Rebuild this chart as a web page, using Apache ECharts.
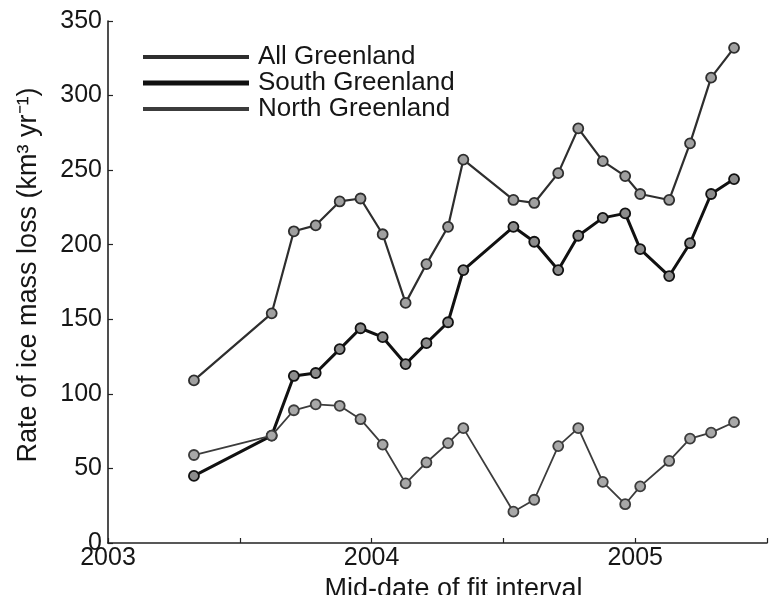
<!DOCTYPE html>
<html>
<head>
<meta charset="utf-8">
<script src="https://cdn.jsdelivr.net/npm/echarts@6/dist/echarts.min.js"></script>
<style>
html,body{margin:0;padding:0;background:#fff;}
#chart{width:783px;height:595px;}
</style>
</head>
<body>
<div id="chart"></div>
<script>
// Mid-date of fit interval (decimal year)
var midDates = [2003.326, 2003.621, 2003.705, 2003.788, 2003.879, 2003.958, 2004.042, 2004.129, 2004.208, 2004.290, 2004.348,
                2004.538, 2004.617, 2004.708, 2004.784, 2004.877, 2004.962, 2005.019, 2005.129, 2005.208, 2005.288, 2005.375];
// Rate of ice mass loss (km^3 / yr)
var allGreenland   = [109, 154, 209, 213, 229, 231, 207, 161, 187, 212, 257, 230, 228, 248, 278, 256, 246, 234, 230, 268, 312, 332];
var southGreenland = [45, 72, 112, 114, 130, 144, 138, 120, 134, 148, 183, 212, 202, 183, 206, 218, 221, 197, 179, 201, 234, 244];
var northGreenland = [59, 72, 89, 93, 92, 83, 66, 40, 54, 67, 77, 21, 29, 65, 77, 41, 26, 38, 55, 70, 74, 81];
var seriesNames = ['All Greenland', 'South Greenland', 'North Greenland'];
var xTicks = [2003, 2004, 2005];

function pairs(xs, ys) { return xs.map(function (x, i) { return [x, ys[i]]; }); }

var FONT = 'Liberation Sans, Arial, Helvetica, sans-serif';
var TXT = '#161616';
var FS = 25;
var FS_NAME = 27;
var FS_LEG = 26;

var chart = echarts.init(document.getElementById('chart'), null, {renderer: 'canvas'});

function mkSeries(name, data, color, width, fill) {
  return {
    name: name,
    type: 'line',
    data: data,
    symbol: 'circle',
    symbolSize: 10,
    showAllSymbol: true,
    lineStyle: {color: color, width: width},
    itemStyle: {color: fill, borderColor: color, borderWidth: 1.8},
    emphasis: {disabled: true},
    animation: false,
    z: 3
  };
}

function mkLegend(name, top, h, color) {
  return {
    data: [{name: name, icon: 'rect', itemStyle: {color: color}}],
    left: 143, top: top, padding: 0,
    itemWidth: 104, itemHeight: h,
    textStyle: {fontFamily: FONT, fontSize: FS_LEG, color: TXT, padding: [0, 0, 0, 5]},
    selectedMode: false
  };
}

chart.setOption({
  backgroundColor: '#ffffff',
  animation: false,
  grid: {left: 108, right: 16, top: 21, bottom: 52, containLabel: false, outerBoundsMode: 'none'},
  legend: [
    mkLegend(seriesNames[0], 44, 2.2, '#2e2e2e'),
    mkLegend(seriesNames[1], 70, 3.2, '#111111'),
    mkLegend(seriesNames[2], 96, 1.8, '#3c3c3c')
  ],
  xAxis: {
    type: 'value', min: 2003, max: 2005.5, interval: 0.5,
    name: 'Mid-date of fit interval', nameLocation: 'middle', nameGap: 25,
    nameTextStyle: {fontFamily: FONT, fontSize: FS_NAME, color: TXT, padding: [0, 0, 0, 32]},
    axisLine: {lineStyle: {color: '#222', width: 1.6}},
    axisTick: {inside: true, length: 5, lineStyle: {color: '#222', width: 1.2}},
    axisLabel: {
      margin: 3, fontFamily: FONT, fontSize: FS, color: TXT,
      formatter: function (v) { return xTicks.indexOf(Math.round(v * 2) / 2) >= 0 ? String(Math.round(v)) : ''; }
    },
    splitLine: {show: false}
  },
  yAxis: {
    type: 'value', min: 0, max: 350, interval: 50,
    name: 'Rate of ice mass loss (km³ yr⁻¹)', nameLocation: 'middle', nameGap: 66,
    nameTextStyle: {fontFamily: FONT, fontSize: FS_NAME, color: TXT, padding: [0, 0, 0, 14]},
    axisLine: {show: true, lineStyle: {color: '#222', width: 1.6}},
    axisTick: {show: true, inside: true, length: 5, lineStyle: {color: '#222', width: 1.2}},
    axisLabel: {margin: 6, fontFamily: FONT, fontSize: FS, color: TXT},
    splitLine: {show: false}
  },
  series: [
    mkSeries(seriesNames[0], pairs(midDates, allGreenland), '#2e2e2e', 2.2, '#a0a0a0'),
    mkSeries(seriesNames[1], pairs(midDates, southGreenland), '#111111', 3.0, '#8c8c8c'),
    mkSeries(seriesNames[2], pairs(midDates, northGreenland), '#3c3c3c', 1.8, '#a8a8a8')
  ]
});
</script>
</body>
</html>
